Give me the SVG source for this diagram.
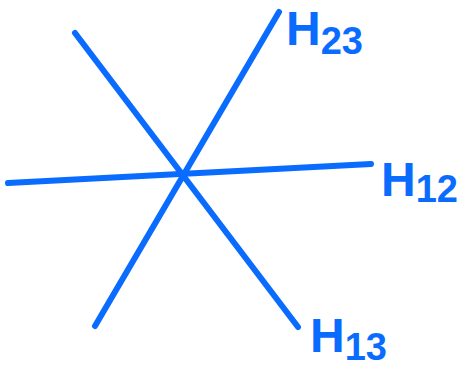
<svg xmlns="http://www.w3.org/2000/svg" width="465" height="367" viewBox="0 0 465 367">
<style>
.ln{stroke:#0a6cff;stroke-width:6;stroke-linecap:round;fill:none}
.lb{fill:#0a6cff;font-family:"Liberation Sans",Arial,sans-serif;font-weight:bold}
.m{font-size:48px}
.s{font-size:38px}
</style>
<rect width="465" height="367" fill="#ffffff"/>
<g id="connectors">
<line class="ln" x1="75" y1="33" x2="298" y2="327"/>
<line class="ln" x1="95" y1="326" x2="279" y2="12"/>
<line class="ln" x1="8" y1="183" x2="371" y2="164"/>
</g>
<g id="H23"><text class="lb" x="286" y="45"><tspan class="m">H</tspan><tspan class="s" dy="9">23</tspan></text></g>
<g id="H12"><text class="lb" x="381" y="196"><tspan class="m">H</tspan><tspan class="s" dy="6">12</tspan></text></g>
<g id="H13"><text class="lb" x="310" y="352"><tspan class="m">H</tspan><tspan class="s" dy="8">13</tspan></text></g>
</svg>
